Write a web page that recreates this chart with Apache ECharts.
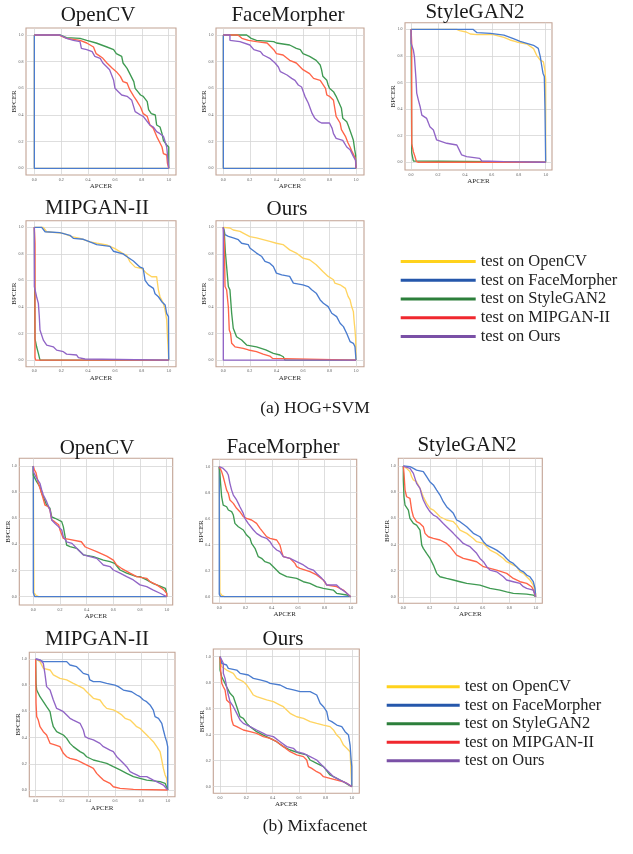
<!DOCTYPE html>
<html>
<head>
<meta charset="utf-8">
<script src="https://cdn.jsdelivr.net/npm/echarts@6/dist/echarts.min.js"></script>
<style>html,body{margin:0;padding:0;background:#fff;}#c{width:633px;height:854px;}</style>
</head>
<body>
<div id="c"></div>
<script>
// ---------- names / labels ----------
const SERIES_NAMES = ['test on OpenCV','test on FaceMorpher','test on StyleGAN2','test on MIPGAN-II','test on Ours'];
const PANEL_TITLES = ['OpenCV','FaceMorpher','StyleGAN2','MIPGAN-II','Ours'];
const CAPTIONS = ['(a) HOG+SVM','(b) Mixfacenet'];
const TICK_VALUES = [0,0.2,0.4,0.6,0.8,1.0];
const X_NAME = 'APCER';
const Y_NAME = 'BPCER';

// ---------- (a) HOG+SVM ----------
const hog_opencv_yellow = [[0,1],[0,0],[1,0]];
const hog_opencv_blue = [[0,1],[0,0],[1,0]];
const hog_opencv_green = [[0,1],[0.19,1],[0.24,0.98],[0.34,0.975],[0.39,0.96],[0.46,0.94],[0.54,0.91],[0.59,0.89],[0.61,0.86],[0.65,0.84],[0.66,0.79],[0.69,0.75],[0.71,0.71],[0.74,0.65],[0.75,0.6],[0.77,0.575],[0.79,0.55],[0.81,0.54],[0.84,0.5],[0.85,0.44],[0.87,0.41],[0.9,0.4],[0.91,0.325],[0.935,0.31],[0.95,0.26],[0.96,0.21],[0.97,0.2],[0.985,0.175],[1,0.16],[1,0]];
const hog_opencv_red = [[0,1],[0.18,1],[0.19,0.99],[0.24,0.975],[0.34,0.96],[0.39,0.94],[0.44,0.91],[0.46,0.86],[0.49,0.84],[0.51,0.825],[0.54,0.79],[0.58,0.75],[0.61,0.725],[0.64,0.69],[0.66,0.65],[0.69,0.64],[0.71,0.59],[0.74,0.54],[0.76,0.51],[0.79,0.46],[0.81,0.41],[0.84,0.39],[0.86,0.325],[0.885,0.3],[0.91,0.24],[0.935,0.19],[0.95,0.16],[0.96,0.11],[0.985,0.1],[0.99,0.04],[1,0]];
const hog_opencv_purple = [[0,1],[0.19,1],[0.24,0.975],[0.29,0.96],[0.34,0.95],[0.35,0.9],[0.39,0.89],[0.43,0.875],[0.45,0.84],[0.49,0.825],[0.51,0.79],[0.54,0.76],[0.56,0.74],[0.59,0.66],[0.6,0.6],[0.625,0.575],[0.65,0.55],[0.69,0.54],[0.725,0.51],[0.75,0.425],[0.79,0.4],[0.81,0.39],[0.86,0.325],[0.885,0.31],[0.91,0.275],[0.935,0.26],[0.96,0.24],[0.97,0.21],[0.985,0.16],[1,0]];

const hog_face_yellow = [[0,1],[0,0],[1,0]];
const hog_face_blue = [[0,1],[0,0],[1,0]];
const hog_face_green = [[0,1],[0.176,1],[0.21,0.975],[0.25,0.96],[0.38,0.95],[0.4,0.94],[0.5,0.925],[0.55,0.9],[0.58,0.89],[0.6,0.86],[0.65,0.84],[0.7,0.81],[0.73,0.775],[0.74,0.74],[0.75,0.69],[0.78,0.66],[0.79,0.625],[0.8,0.6],[0.83,0.575],[0.85,0.54],[0.89,0.45],[0.9,0.375],[0.93,0.35],[0.94,0.325],[0.955,0.31],[0.97,0.24],[0.98,0.21],[0.99,0.14],[0.997,0.1],[1,0]];
const hog_face_red = [[0,1],[0.11,1],[0.14,0.975],[0.19,0.96],[0.25,0.95],[0.33,0.94],[0.38,0.89],[0.4,0.86],[0.45,0.85],[0.5,0.81],[0.55,0.79],[0.6,0.74],[0.65,0.71],[0.68,0.675],[0.73,0.66],[0.77,0.6],[0.78,0.55],[0.8,0.54],[0.83,0.51],[0.84,0.45],[0.85,0.39],[0.88,0.34],[0.89,0.29],[0.92,0.24],[0.94,0.19],[0.955,0.16],[0.97,0.125],[0.985,0.11],[0.995,0.075],[1,0]];
const hog_face_purple = [[0,1],[0.05,1],[0.05,0.96],[0.125,0.95],[0.2,0.925],[0.23,0.89],[0.28,0.875],[0.3,0.85],[0.35,0.825],[0.39,0.79],[0.415,0.76],[0.43,0.725],[0.48,0.7],[0.515,0.675],[0.54,0.66],[0.565,0.625],[0.59,0.61],[0.615,0.54],[0.64,0.49],[0.67,0.41],[0.69,0.375],[0.72,0.35],[0.74,0.34],[0.8,0.34],[0.82,0.3],[0.83,0.26],[0.85,0.225],[0.9,0.21],[0.93,0.16],[0.955,0.14],[0.98,0.09],[0.997,0.06],[1,0]];

const hog_style_yellow = [[0,1],[0.34,1],[0.36,0.99],[0.41,0.98],[0.44,0.965],[0.49,0.96],[0.61,0.96],[0.69,0.94],[0.735,0.92],[0.785,0.905],[0.86,0.89],[0.91,0.855],[0.933,0.805],[0.958,0.77],[0.983,0.755],[0.995,0.69],[1,0.62],[1,0]];
const hog_style_blue = [[0,1],[0.46,1],[0.49,0.975],[0.59,0.97],[0.69,0.957],[0.76,0.93],[0.81,0.91],[0.86,0.895],[0.91,0.88],[0.945,0.857],[0.96,0.795],[0.97,0.73],[0.98,0.67],[0.99,0.645],[0.995,0.4],[1,0]];
const hog_style_green = [[0,1],[0.005,0.07],[0.017,0.01],[0.03,0],[1,0]];
const hog_style_red = [[0,1],[0.005,0.89],[0.005,0.14],[0.017,0.08],[0.03,0.04],[0.04,0.005],[0.055,0],[1,0]];
const hog_style_purple = [[0,1],[0,0.895],[0.017,0.845],[0.025,0.795],[0.03,0.72],[0.037,0.62],[0.042,0.52],[0.054,0.47],[0.067,0.42],[0.08,0.355],[0.09,0.343],[0.116,0.33],[0.13,0.293],[0.14,0.268],[0.166,0.243],[0.178,0.205],[0.19,0.168],[0.2,0.155],[0.265,0.143],[0.34,0.13],[0.364,0.08],[0.376,0.055],[0.413,0.043],[0.51,0.03],[0.525,0.01],[0.69,0.005],[1,0]];

const hog_mip_yellow = [[0,1],[0.067,1],[0.092,0.967],[0.216,0.955],[0.278,0.93],[0.34,0.917],[0.414,0.89],[0.464,0.88],[0.538,0.867],[0.6,0.84],[0.663,0.8],[0.687,0.79],[0.712,0.74],[0.75,0.7],[0.8,0.69],[0.836,0.653],[0.873,0.628],[0.91,0.628],[0.923,0.528],[0.935,0.477],[0.96,0.427],[0.973,0.377],[0.985,0.3],[0.99,0.19],[1,0]];
const hog_mip_blue = [[0,1],[0.055,1],[0.08,0.967],[0.19,0.96],[0.265,0.94],[0.29,0.917],[0.365,0.91],[0.414,0.89],[0.464,0.87],[0.563,0.857],[0.588,0.82],[0.66,0.8],[0.687,0.78],[0.737,0.746],[0.787,0.7],[0.81,0.69],[0.824,0.6],[0.85,0.565],[0.886,0.54],[0.898,0.5],[0.923,0.477],[0.948,0.44],[0.973,0.415],[0.985,0.35],[0.998,0.327],[1,0]];
const hog_mip_green = [[0,1],[0.005,0.16],[0.017,0.1],[0.03,0.05],[0.042,0],[1,0]];
const hog_mip_red = [[0,1],[0.005,0.88],[0.005,0.02],[0.01,0],[1,0]];
const hog_mip_purple = [[0,1],[0,0.553],[0.012,0.54],[0.017,0.477],[0.03,0.427],[0.037,0.327],[0.042,0.226],[0.055,0.214],[0.067,0.15],[0.092,0.113],[0.141,0.1],[0.166,0.075],[0.216,0.063],[0.24,0.045],[0.315,0.038],[0.328,0.018],[0.377,0.008],[1,0]];

const hog_ours_yellow = [[0,1],[0.05,0.995],[0.075,0.98],[0.126,0.97],[0.15,0.957],[0.2,0.93],[0.25,0.92],[0.3,0.907],[0.35,0.894],[0.4,0.88],[0.45,0.87],[0.5,0.83],[0.55,0.806],[0.6,0.768],[0.65,0.756],[0.7,0.718],[0.75,0.667],[0.79,0.63],[0.83,0.605],[0.84,0.58],[0.88,0.567],[0.92,0.54],[0.94,0.48],[0.955,0.453],[0.967,0.403],[0.98,0.365],[0.985,0.3],[0.992,0.227],[0.997,0.164],[1,0]];
const hog_ours_blue = [[0,1],[0.008,0.97],[0.013,0.945],[0.038,0.932],[0.075,0.92],[0.113,0.907],[0.138,0.88],[0.188,0.87],[0.2,0.844],[0.25,0.806],[0.29,0.78],[0.314,0.743],[0.35,0.73],[0.377,0.705],[0.4,0.655],[0.44,0.642],[0.5,0.63],[0.528,0.58],[0.6,0.567],[0.64,0.554],[0.666,0.53],[0.7,0.504],[0.73,0.453],[0.754,0.428],[0.79,0.403],[0.817,0.353],[0.854,0.327],[0.88,0.277],[0.905,0.252],[0.93,0.2],[0.955,0.139],[0.98,0.126],[0.992,0.1],[1,0]];
const hog_ours_green = [[0,1],[0.008,0.95],[0.015,0.82],[0.025,0.705],[0.038,0.554],[0.05,0.529],[0.063,0.353],[0.075,0.24],[0.1,0.176],[0.138,0.151],[0.176,0.113],[0.25,0.1],[0.32,0.076],[0.377,0.05],[0.427,0.038],[0.452,0.025],[0.465,0],[1,0]];
const hog_ours_red = [[0,1],[0.008,0.88],[0.013,0.554],[0.025,0.53],[0.038,0.4],[0.045,0.227],[0.055,0.2],[0.063,0.126],[0.088,0.1],[0.15,0.088],[0.19,0.076],[0.25,0.063],[0.3,0.045],[0.35,0.03],[0.37,0.013],[0.372,0],[1,0]];
const hog_ours_purple = [[0,1],[0,0],[1,0]];

// ---------- (b) Mixfacenet ----------
const mix_opencv_yellow = [[0,1],[0.005,0.03],[0.02,0.01],[0.04,0],[1,0]];
const mix_opencv_blue = [[0,1],[0,0.03],[0.01,0],[1,0]];
const mix_opencv_green = [[0,1],[0,0.93],[0.013,0.92],[0.025,0.88],[0.05,0.84],[0.063,0.79],[0.075,0.765],[0.1,0.7],[0.125,0.676],[0.138,0.61],[0.163,0.6],[0.213,0.574],[0.225,0.536],[0.25,0.395],[0.275,0.383],[0.325,0.37],[0.375,0.32],[0.45,0.306],[0.525,0.28],[0.575,0.268],[0.61,0.255],[0.65,0.204],[0.7,0.18],[0.775,0.153],[0.8,0.153],[0.85,0.128],[0.9,0.1],[0.95,0.08],[0.99,0.064],[1,0.025],[1,0]];
const mix_opencv_red = [[0,1],[0.008,0.97],[0.02,0.95],[0.037,0.87],[0.05,0.83],[0.07,0.765],[0.088,0.7],[0.11,0.69],[0.125,0.663],[0.138,0.587],[0.16,0.574],[0.19,0.55],[0.2,0.51],[0.225,0.446],[0.26,0.44],[0.36,0.42],[0.39,0.38],[0.475,0.344],[0.55,0.31],[0.6,0.28],[0.625,0.242],[0.66,0.217],[0.725,0.18],[0.775,0.153],[0.85,0.14],[0.875,0.115],[0.925,0.09],[0.975,0.056],[1,0.025],[1,0]];
const mix_opencv_purple = [[0,1],[0,0.957],[0.013,0.93],[0.025,0.906],[0.05,0.867],[0.063,0.816],[0.075,0.778],[0.1,0.727],[0.113,0.714],[0.125,0.663],[0.138,0.587],[0.163,0.56],[0.188,0.536],[0.213,0.51],[0.225,0.46],[0.25,0.42],[0.29,0.408],[0.325,0.37],[0.375,0.32],[0.425,0.306],[0.475,0.293],[0.5,0.268],[0.525,0.242],[0.575,0.23],[0.6,0.204],[0.65,0.18],[0.7,0.153],[0.75,0.128],[0.8,0.09],[0.85,0.077],[0.9,0.05],[0.95,0.026],[1,0]];

const mix_face_yellow = [[0,1],[0.005,0.03],[0.02,0.01],[0.04,0],[1,0]];
const mix_face_blue = [[0,1],[0,0.02],[0.01,0],[1,0]];
const mix_face_green = [[0,1],[0.005,0.949],[0.01,0.872],[0.018,0.769],[0.03,0.705],[0.056,0.692],[0.069,0.667],[0.094,0.654],[0.107,0.628],[0.119,0.564],[0.145,0.538],[0.183,0.513],[0.208,0.474],[0.234,0.449],[0.246,0.41],[0.272,0.372],[0.297,0.308],[0.322,0.295],[0.348,0.269],[0.386,0.256],[0.411,0.231],[0.462,0.179],[0.513,0.154],[0.589,0.141],[0.64,0.115],[0.69,0.103],[0.741,0.077],[0.792,0.064],[0.868,0.051],[0.893,0.026],[0.97,0.013],[1,0]];
const mix_face_red = [[0,1],[0.005,1],[0.018,0.962],[0.03,0.923],[0.043,0.872],[0.056,0.82],[0.069,0.795],[0.081,0.744],[0.107,0.718],[0.132,0.68],[0.157,0.654],[0.183,0.615],[0.208,0.603],[0.246,0.59],[0.284,0.564],[0.31,0.526],[0.36,0.462],[0.386,0.449],[0.437,0.436],[0.462,0.397],[0.475,0.346],[0.487,0.308],[0.538,0.295],[0.576,0.256],[0.589,0.231],[0.614,0.218],[0.69,0.192],[0.741,0.167],[0.792,0.128],[0.817,0.09],[0.893,0.077],[0.944,0.051],[1,0]];
const mix_face_purple = [[0,1],[0.03,0.987],[0.055,0.962],[0.069,0.936],[0.081,0.872],[0.094,0.82],[0.107,0.782],[0.132,0.744],[0.145,0.718],[0.157,0.692],[0.183,0.641],[0.195,0.603],[0.22,0.564],[0.26,0.513],[0.284,0.487],[0.322,0.462],[0.36,0.449],[0.386,0.423],[0.41,0.385],[0.437,0.359],[0.462,0.346],[0.487,0.308],[0.538,0.295],[0.589,0.269],[0.64,0.244],[0.678,0.218],[0.716,0.205],[0.741,0.179],[0.78,0.141],[0.805,0.115],[0.817,0.09],[0.893,0.09],[0.919,0.064],[0.957,0.038],[1,0]];

const mix_style_yellow = [[0,1],[0,0.995],[0.025,0.982],[0.05,0.957],[0.063,0.918],[0.076,0.893],[0.1,0.88],[0.126,0.829],[0.151,0.765],[0.176,0.714],[0.202,0.676],[0.227,0.663],[0.252,0.638],[0.277,0.612],[0.327,0.587],[0.378,0.574],[0.403,0.548],[0.428,0.51],[0.479,0.485],[0.529,0.446],[0.554,0.421],[0.605,0.408],[0.655,0.357],[0.705,0.332],[0.756,0.293],[0.78,0.268],[0.831,0.242],[0.856,0.23],[0.882,0.191],[0.907,0.179],[0.932,0.153],[0.957,0.128],[0.982,0.089],[1,0.026],[1,0]];
const mix_style_blue = [[0,1],[0.013,1],[0.05,0.995],[0.076,0.982],[0.1,0.969],[0.151,0.957],[0.176,0.918],[0.2,0.88],[0.227,0.855],[0.252,0.816],[0.277,0.778],[0.302,0.727],[0.327,0.689],[0.353,0.663],[0.378,0.638],[0.403,0.587],[0.428,0.574],[0.479,0.536],[0.529,0.485],[0.579,0.459],[0.605,0.421],[0.63,0.395],[0.68,0.37],[0.705,0.357],[0.756,0.319],[0.78,0.293],[0.806,0.268],[0.831,0.255],[0.856,0.23],[0.882,0.204],[0.907,0.191],[0.932,0.166],[0.957,0.153],[0.982,0.115],[0.995,0.064],[1,0]];
const mix_style_green = [[0,1],[0,0.893],[0.005,0.765],[0.013,0.7],[0.025,0.689],[0.038,0.663],[0.05,0.6],[0.076,0.561],[0.1,0.548],[0.126,0.51],[0.139,0.395],[0.151,0.37],[0.176,0.332],[0.202,0.293],[0.227,0.242],[0.252,0.179],[0.277,0.153],[0.327,0.14],[0.378,0.128],[0.428,0.115],[0.479,0.102],[0.579,0.089],[0.655,0.064],[0.73,0.051],[0.781,0.038],[0.831,0.026],[0.932,0.02],[0.982,0.013],[1,0]];
const mix_style_red = [[0,1],[0.005,0.944],[0.013,0.816],[0.025,0.765],[0.05,0.753],[0.063,0.663],[0.076,0.612],[0.1,0.574],[0.126,0.561],[0.151,0.536],[0.164,0.485],[0.189,0.459],[0.227,0.446],[0.277,0.434],[0.327,0.408],[0.353,0.383],[0.403,0.319],[0.453,0.293],[0.504,0.281],[0.554,0.268],[0.605,0.23],[0.655,0.217],[0.705,0.204],[0.781,0.179],[0.831,0.14],[0.882,0.115],[0.932,0.102],[0.97,0.077],[0.982,0.051],[1,0]];
const mix_style_purple = [[0,1],[0.013,1],[0.05,0.982],[0.076,0.944],[0.1,0.867],[0.126,0.829],[0.139,0.778],[0.151,0.74],[0.176,0.689],[0.202,0.65],[0.227,0.625],[0.252,0.612],[0.277,0.587],[0.302,0.561],[0.327,0.536],[0.353,0.51],[0.378,0.485],[0.403,0.459],[0.428,0.434],[0.453,0.408],[0.479,0.395],[0.504,0.383],[0.529,0.357],[0.554,0.332],[0.579,0.293],[0.605,0.268],[0.63,0.23],[0.655,0.204],[0.705,0.191],[0.756,0.153],[0.78,0.128],[0.831,0.115],[0.882,0.102],[0.907,0.077],[0.932,0.064],[0.982,0.051],[1,0]];

const mix_mip_yellow = [[0,1],[0.033,0.98],[0.058,0.929],[0.109,0.916],[0.134,0.878],[0.184,0.852],[0.235,0.84],[0.285,0.814],[0.336,0.789],[0.361,0.776],[0.386,0.75],[0.412,0.725],[0.437,0.7],[0.487,0.687],[0.513,0.649],[0.538,0.623],[0.588,0.611],[0.614,0.598],[0.652,0.573],[0.677,0.547],[0.715,0.534],[0.74,0.509],[0.765,0.483],[0.79,0.471],[0.816,0.445],[0.841,0.42],[0.866,0.394],[0.891,0.369],[0.917,0.331],[0.942,0.293],[0.955,0.229],[0.967,0.165],[0.98,0.115],[0.992,0.089],[1,0]];
const mix_mip_blue = [[0,1],[0.033,0.992],[0.058,0.98],[0.235,0.98],[0.26,0.954],[0.31,0.941],[0.336,0.916],[0.361,0.89],[0.4,0.878],[0.41,0.84],[0.437,0.827],[0.487,0.827],[0.538,0.814],[0.6,0.8],[0.626,0.789],[0.664,0.763],[0.727,0.75],[0.765,0.725],[0.79,0.712],[0.816,0.687],[0.84,0.674],[0.866,0.649],[0.891,0.61],[0.904,0.56],[0.93,0.547],[0.955,0.509],[0.967,0.458],[0.98,0.407],[0.992,0.369],[1,0.33],[1,0]];
const mix_mip_green = [[0,1],[0.003,0.814],[0.008,0.763],[0.02,0.75],[0.033,0.712],[0.058,0.674],[0.083,0.636],[0.109,0.598],[0.121,0.534],[0.134,0.483],[0.159,0.445],[0.184,0.433],[0.21,0.42],[0.235,0.394],[0.26,0.356],[0.285,0.331],[0.336,0.293],[0.361,0.28],[0.386,0.254],[0.437,0.229],[0.487,0.216],[0.538,0.204],[0.588,0.178],[0.639,0.153],[0.689,0.127],[0.74,0.102],[0.79,0.089],[0.841,0.076],[0.942,0.064],[0.98,0.051],[1,0]];
const mix_mip_red = [[0,1],[0.003,0.662],[0.008,0.56],[0.02,0.534],[0.033,0.483],[0.058,0.445],[0.083,0.42],[0.109,0.356],[0.146,0.344],[0.184,0.331],[0.21,0.28],[0.235,0.254],[0.26,0.242],[0.31,0.229],[0.336,0.216],[0.361,0.204],[0.412,0.178],[0.437,0.165],[0.462,0.127],[0.487,0.102],[0.513,0.076],[0.563,0.051],[0.588,0.025],[0.639,0.013],[0.74,0.005],[1,0]];
const mix_mip_purple = [[0,1],[0.033,0.992],[0.058,0.967],[0.07,0.89],[0.083,0.789],[0.109,0.763],[0.134,0.687],[0.159,0.623],[0.184,0.611],[0.21,0.598],[0.235,0.573],[0.26,0.547],[0.285,0.534],[0.336,0.509],[0.361,0.458],[0.374,0.407],[0.4,0.394],[0.437,0.382],[0.487,0.356],[0.513,0.331],[0.563,0.305],[0.588,0.293],[0.614,0.254],[0.639,0.229],[0.664,0.204],[0.689,0.178],[0.715,0.14],[0.74,0.127],[0.765,0.115],[0.79,0.102],[0.841,0.102],[0.891,0.076],[0.942,0.051],[0.967,0.038],[1,0]];

const mix_ours_yellow = [[0,1],[0.013,0.923],[0.025,0.91],[0.05,0.897],[0.101,0.872],[0.127,0.833],[0.177,0.808],[0.203,0.782],[0.228,0.744],[0.253,0.705],[0.278,0.692],[0.354,0.667],[0.405,0.654],[0.456,0.628],[0.481,0.615],[0.506,0.59],[0.532,0.564],[0.557,0.551],[0.582,0.538],[0.633,0.526],[0.684,0.5],[0.734,0.487],[0.785,0.474],[0.835,0.462],[0.861,0.436],[0.886,0.397],[0.911,0.372],[0.937,0.32],[0.962,0.295],[0.987,0.269],[0.992,0.256],[1,0]];
const mix_ours_blue = [[0,1],[0.013,0.949],[0.05,0.936],[0.063,0.91],[0.127,0.897],[0.152,0.872],[0.215,0.859],[0.253,0.833],[0.304,0.821],[0.354,0.808],[0.38,0.795],[0.456,0.782],[0.506,0.756],[0.557,0.744],[0.608,0.731],[0.684,0.731],[0.734,0.705],[0.76,0.641],[0.785,0.615],[0.81,0.577],[0.823,0.513],[0.848,0.5],[0.886,0.474],[0.924,0.462],[0.949,0.423],[0.975,0.397],[0.987,0.32],[0.995,0.205],[1,0.154],[1,0]];
const mix_ours_green = [[0,1],[0,0.897],[0.013,0.846],[0.025,0.82],[0.05,0.769],[0.076,0.718],[0.101,0.692],[0.127,0.615],[0.152,0.538],[0.177,0.526],[0.203,0.487],[0.228,0.462],[0.278,0.423],[0.329,0.397],[0.38,0.372],[0.43,0.346],[0.481,0.308],[0.532,0.282],[0.608,0.256],[0.658,0.244],[0.684,0.205],[0.734,0.179],[0.785,0.154],[0.835,0.09],[0.886,0.064],[0.937,0.038],[0.975,0.013],[1,0]];
const mix_ours_red = [[0,1],[0.005,0.897],[0.013,0.795],[0.025,0.769],[0.038,0.744],[0.05,0.667],[0.076,0.641],[0.089,0.513],[0.101,0.474],[0.127,0.462],[0.177,0.436],[0.228,0.423],[0.278,0.41],[0.329,0.385],[0.38,0.372],[0.43,0.346],[0.481,0.308],[0.532,0.269],[0.582,0.244],[0.633,0.231],[0.658,0.205],[0.671,0.154],[0.696,0.141],[0.734,0.115],[0.76,0.103],[0.785,0.077],[0.835,0.064],[0.886,0.051],[0.937,0.038],[0.962,0.026],[1,0]];
const mix_ours_purple = [[0,1],[0.013,1],[0.025,0.949],[0.025,0.872],[0.038,0.833],[0.05,0.769],[0.063,0.705],[0.076,0.654],[0.101,0.615],[0.127,0.564],[0.152,0.513],[0.177,0.487],[0.228,0.462],[0.278,0.436],[0.329,0.41],[0.354,0.397],[0.405,0.385],[0.456,0.346],[0.506,0.308],[0.557,0.295],[0.582,0.269],[0.633,0.256],[0.684,0.231],[0.734,0.205],[0.76,0.179],[0.785,0.154],[0.835,0.103],[0.861,0.077],[0.911,0.051],[0.962,0.026],[1,0]];

// ---------- assembly ----------
const PANEL_DATA = [
  [hog_opencv_yellow, hog_opencv_blue, hog_opencv_green, hog_opencv_red, hog_opencv_purple],
  [hog_face_yellow, hog_face_blue, hog_face_green, hog_face_red, hog_face_purple],
  [hog_style_yellow, hog_style_blue, hog_style_green, hog_style_red, hog_style_purple],
  [hog_mip_yellow, hog_mip_blue, hog_mip_green, hog_mip_red, hog_mip_purple],
  [hog_ours_yellow, hog_ours_blue, hog_ours_green, hog_ours_red, hog_ours_purple],
  [mix_opencv_yellow, mix_opencv_blue, mix_opencv_green, mix_opencv_red, mix_opencv_purple],
  [mix_face_yellow, mix_face_blue, mix_face_green, mix_face_red, mix_face_purple],
  [mix_style_yellow, mix_style_blue, mix_style_green, mix_style_red, mix_style_purple],
  [mix_mip_yellow, mix_mip_blue, mix_mip_green, mix_mip_red, mix_mip_purple],
  [mix_ours_yellow, mix_ours_blue, mix_ours_green, mix_ours_red, mix_ours_purple]
];

// layout (frame rectangles, axis extents, title centres)
const LAYOUT = [
  {l:26,  t:28,    w:150, h:147, x:[-0.062,1.054], y:[-0.05,1.0525], tx:98,  ty:15},
  {l:216, t:28,    w:148, h:147, x:[-0.055,1.06],  y:[-0.05,1.0525], tx:288, ty:15},
  {l:405, t:22.7,  w:147, h:147.3, x:[-0.045,1.047], y:[-0.058,1.05], tx:475, ty:12},
  {l:26,  t:220.7, w:150, h:146, x:[-0.062,1.054], y:[-0.05,1.05],  tx:97,  ty:208},
  {l:216, t:220.7, w:148, h:146, x:[-0.055,1.06],  y:[-0.05,1.05],  tx:287, ty:209},
  {l:19.3,t:458.3, w:153.4, h:146.7, x:[-0.105,1.045], y:[-0.064,1.059], tx:97, ty:448},
  {l:212.7,t:459.3,w:144, h:144, x:[-0.05,1.046], y:[-0.051,1.057], tx:283, ty:447},
  {l:398.3,t:458.3,w:144, h:145, x:[-0.038,1.05], y:[-0.05,1.059], tx:467, ty:445},
  {l:29.3,t:652.3, w:145.7, h:144.4, x:[-0.048,1.055], y:[-0.051,1.051], tx:97, ty:639},
  {l:213.3,t:649,  w:146, h:144.3, x:[-0.051,1.057], y:[-0.051,1.059], tx:283, ty:639}
];

const LINE_COLORS = ['#ffd460','#4a7ccf','#3f9a52','#ff6448','#9165c6'];
const LEGEND_COLORS = ['#ffd21c','#2557ab','#2c7f3b','#f0282e','#7a50a6'];
const SERIF = '"Liberation Serif","DejaVu Serif",serif';

const grids = [], xAxes = [], yAxes = [], series = [], graphics = [];
LAYOUT.forEach((L, i) => {
  grids.push({left:L.l, top:L.t, width:L.w, height:L.h, show:true, borderColor:'#c2a394', borderWidth:1.1, backgroundColor:'rgba(0,0,0,0)'});
  const common = {
    gridIndex:i, type:'value',
    axisLine:{show:false},
    axisTick:{show:false, customValues:TICK_VALUES},
    axisLabel:{customValues:TICK_VALUES, formatter:v=>Number(v).toFixed(1), fontSize:4, color:'#555', fontFamily:SERIF, margin:2.5},
    splitLine:{show:true, lineStyle:{color:'#d6d6d6', width:0.8}},
    nameLocation:'middle',
    nameMoveOverlap:false,
    nameTextStyle:{fontFamily:SERIF, fontSize:7, color:'#2a2a2a'}
  };
  xAxes.push(Object.assign({}, common, {min:L.x[0], max:L.x[1], name:X_NAME, nameGap:7.5}));
  yAxes.push(Object.assign({}, common, {min:L.y[0], max:L.y[1], name:Y_NAME, nameGap:8}));
  PANEL_DATA[i].forEach((d, k) => {
    series.push({type:'line', name:SERIES_NAMES[k], xAxisIndex:i, yAxisIndex:i, data:d,
      symbol:'none', showSymbol:false, silent:true, animation:false,
      lineStyle:{width:1.35, color:LINE_COLORS[k]}, itemStyle:{color:LINE_COLORS[k]}});
  });
  graphics.push({type:'text', x:L.tx, y:L.ty, silent:true,
    style:{text:PANEL_TITLES[i%5], font:'21px '+SERIF, fill:'#1a1a1a', textAlign:'center', textVerticalAlign:'middle'}});
});

graphics.push({type:'text', x:315, y:408, style:{text:CAPTIONS[0], font:'17.5px '+SERIF, fill:'#1a1a1a', textAlign:'center', textVerticalAlign:'middle'}});
graphics.push({type:'text', x:315, y:826, style:{text:CAPTIONS[1], font:'17.5px '+SERIF, fill:'#1a1a1a', textAlign:'center', textVerticalAlign:'middle'}});

function legendFor(left, top, iw, lh) {
  return {orient:'vertical', left:left, top:top, padding:0, itemGap:0, itemWidth:iw, itemHeight:3, icon:'rect',
    selectedMode:false,
    textStyle:{fontFamily:SERIF, fontSize:16.5, lineHeight:lh, color:'#222'},
    data:SERIES_NAMES.map((n,k)=>({name:n, itemStyle:{color:LEGEND_COLORS[k]}}))};
}

const chart = echarts.init(document.getElementById('c'), null, {renderer:'canvas'});
chart.setOption({
  animation:false,
  backgroundColor:'#ffffff',
  grid:grids, xAxis:xAxes, yAxis:yAxes, series:series,
  legend:[legendFor(400.7, 252, 75, 18.8), legendFor(386.7, 677.5, 73, 18.5)],
  graphic:graphics
});
</script>
</body>
</html>
